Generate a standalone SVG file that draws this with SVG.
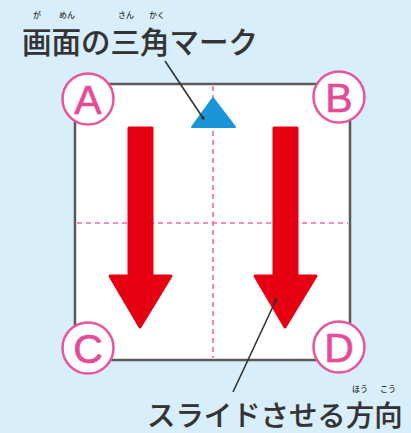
<svg xmlns="http://www.w3.org/2000/svg" width="411" height="433" viewBox="0 0 411 433">
<style>
.bg{fill:#d9eefb}
.box{fill:#ffffff;stroke:#5a5a5a;stroke-width:2.5}
.guide{stroke:#ee6aa8;stroke-width:1.6;stroke-dasharray:5 4;fill:none}
.arrow{fill:#e60012;stroke:#e60012;stroke-width:3;stroke-linejoin:round}
.mark{fill:#1a96d8;stroke:#1a96d8;stroke-width:2;stroke-linejoin:round}
.corner{fill:#ffffff;stroke:#e8559a;stroke-width:2.5}
.letter{fill:#e64a98;font-family:"Liberation Sans",Arial,sans-serif;font-size:41px;text-anchor:middle;stroke:#e64a98;stroke-width:0.6}
.label{fill:#333333;font-family:"Noto Sans CJK JP","Noto Sans",sans-serif;font-weight:500;stroke:#333333;stroke-width:0.2}
.ruby{fill:#333333;font-family:"Noto Sans CJK JP","Noto Sans",sans-serif;font-size:8px;font-weight:500;text-anchor:middle}
.leader{stroke:#333333;stroke-width:1.6;fill:none}
</style>
<rect class="bg" x="0" y="0" width="411" height="433"/>
<g id="sheet">
<rect class="box" x="75" y="84" width="275" height="276"/>
<line class="guide" x1="213" y1="86" x2="213" y2="358"/>
<line class="guide" x1="77" y1="223" x2="348" y2="223"/>
</g>
<g id="triangle-mark">
<polygon class="mark" points="213,98 192,127 235,127"/>
</g>
<g id="arrow-left">
<polygon class="arrow" points="129,128 152,128 152,276 171,276 140,327 110,276 129,276"/>
</g>
<g id="arrow-right">
<polygon class="arrow" points="274,128 297,128 297,276 316,276 285,327 255,276 274,276"/>
</g>
<g id="corner-a">
<circle class="corner" cx="88" cy="99" r="25.5"/>
<text class="letter" x="88" y="114">A</text>
</g>
<g id="corner-b">
<circle class="corner" cx="339" cy="97" r="25.5"/>
<text class="letter" x="339" y="112">B</text>
</g>
<g id="corner-c">
<circle class="corner" cx="88" cy="348" r="25.5"/>
<text class="letter" x="88" y="363">C</text>
</g>
<g id="corner-d">
<circle class="corner" cx="339" cy="347" r="25.5"/>
<text class="letter" x="339" y="362">D</text>
</g>
<g id="connectors">
<line class="leader" x1="165" y1="61" x2="203" y2="118"/>
<circle cx="203" cy="118" r="1.8" fill="#333333"/>
<line class="leader" x1="233" y1="392" x2="276" y2="300"/>
<circle cx="276" cy="300" r="1.8" fill="#333333"/>
</g>
<g id="label-top">
<text class="label" x="22" y="53" font-size="29.5">画面の三角マーク</text>
<text class="ruby" x="37" y="18">が</text>
<text class="ruby" x="67" y="18">めん</text>
<text class="ruby" x="126" y="18">さん</text>
<text class="ruby" x="157" y="18">かく</text>
</g>
<g id="label-bottom">
<text class="label" x="147" y="426" font-size="28.4">スライドさせる方向</text>
<text class="ruby" x="360" y="392">ほう</text>
<text class="ruby" x="388" y="392">こう</text>
</g>
</svg>
